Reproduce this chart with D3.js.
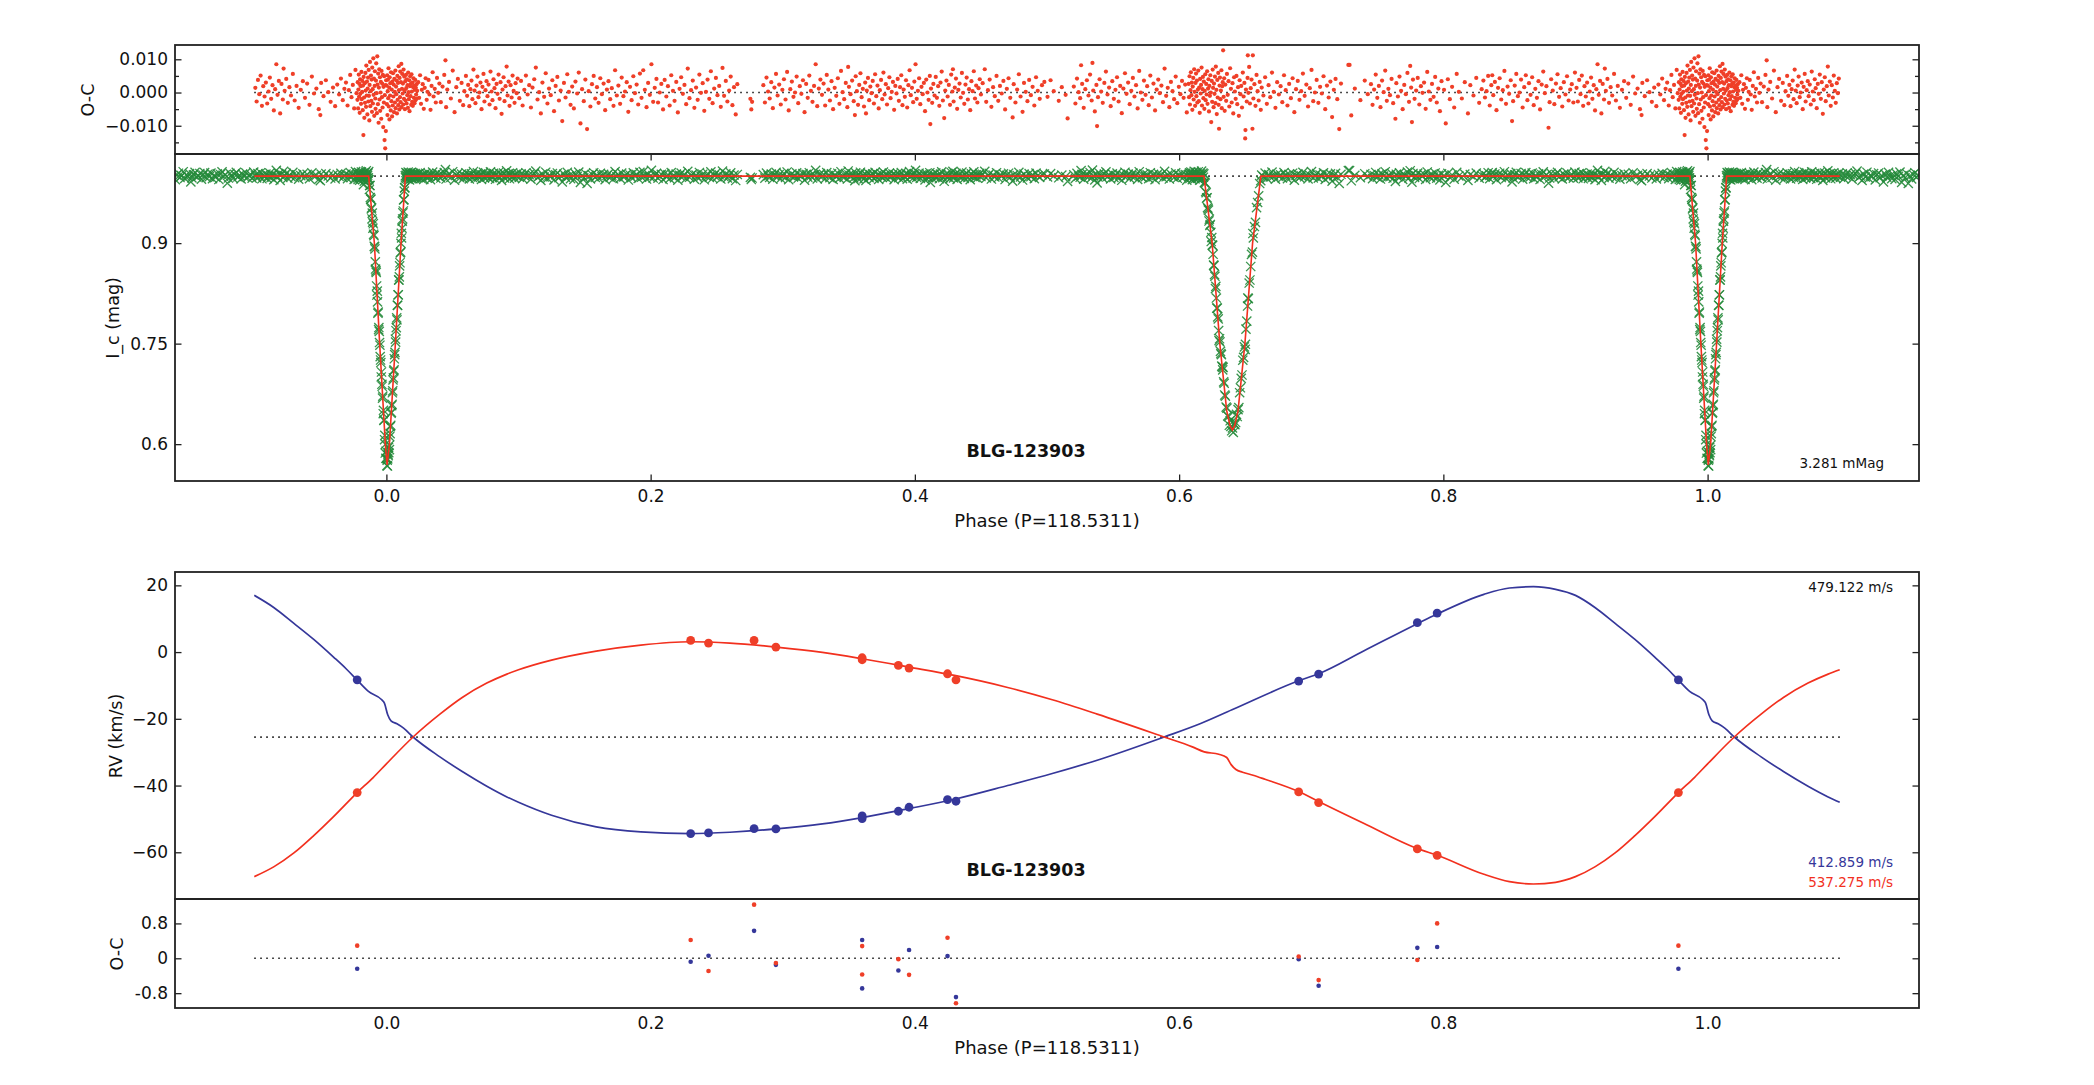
<!DOCTYPE html>
<html>
<head>
<meta charset="utf-8">
<script src="https://cdn.jsdelivr.net/npm/d3@7"></script>
<style>
  body { margin: 0; background: #fff; }
  text { font-family: "DejaVu Sans", sans-serif; }
</style>
</head>
<body>
<div class="chart"></div>
<script>
var svgWidth = 2094;
var svgHeight = 1085;

// photometric residuals, folded phase 0..1, [phase, O-C in mmag]
var lcResiduals = [
  // primary eclipse egress (dense)
  [0.0002,2.1],[0.0004,-3.5],[0.0006,5.2],[0.0008,-6.8],[0.0010,0.4],[0.0012,3.9],[0.0014,-1.7],[0.0016,7.3],[0.0018,-4.2],[0.0021,1.5],
  [0.0023,-8.1],[0.0025,4.6],[0.0028,-0.9],[0.0030,2.8],[0.0033,-5.4],[0.0035,6.1],[0.0038,-2.6],[0.0040,0.9],[0.0043,-7.2],[0.0045,3.3],
  [0.0048,-3.9],[0.0050,5.8],[0.0053,-1.2],[0.0055,2.4],[0.0058,-5.9],[0.0060,4.1],[0.0063,0.2],[0.0065,-3.0],[0.0068,6.6],[0.0070,-4.7],
  [0.0073,1.8],[0.0075,-0.5],[0.0078,3.6],[0.0080,-6.3],[0.0083,5.0],[0.0085,-2.2],[0.0088,2.9],[0.0090,-3.8],[0.0093,7.9],[0.0095,0.7],
  [0.0098,-5.1],[0.0100,4.4],[0.0103,-1.4],[0.0105,6.3],[0.0108,-2.9],[0.0110,3.1],[0.0113,8.6],[0.0115,-4.4],[0.0118,1.1],[0.0120,5.6],
  [0.0123,-0.3],[0.0125,2.7],[0.0128,-3.6],[0.0130,6.9],[0.0133,-1.9],[0.0135,4.8],[0.0138,0.6],[0.0140,-5.0],[0.0143,3.4],[0.0145,-2.4],
  [0.0148,5.3],[0.0150,1.3],[0.0153,-3.3],[0.0155,4.0],[0.0158,-0.8],[0.0160,2.2],[0.0163,-4.6],[0.0165,6.0],[0.0168,0.1],[0.0170,-2.0],
  [0.0173,3.7],[0.0175,-5.6],[0.0178,1.9],[0.0180,4.9],[0.0183,-1.1],[0.0185,2.6],[0.0188,-3.7],[0.0190,5.5],[0.0193,0.3],[0.0195,-2.8],
  [0.0198,3.0],[0.0200,-4.0],[0.0203,1.6],[0.0205,4.3],[0.0208,-1.6],[0.0210,2.0],[0.0213,-3.2],[0.0215,0.8],[0.0218,3.8],[0.0220,-2.3],
  [0.0223,1.4],[0.0225,-0.6],[0.0228,2.5],[0.0230,-1.8],[0.0233,0.5],
  // out of eclipse
  [0.0241,3.1],[0.0248,-1.6],[0.0255,5.2],[0.0262,-3.4],[0.0268,0.8],[0.0275,2.5],[0.0283,-4.9],[0.0290,1.4],[0.0297,4.3],[0.0305,-2.2],
  [0.0311,0.2],[0.0319,3.8],[0.0326,-0.6],[0.0334,-5.2],[0.0342,2.0],[0.0350,6.1],[0.0357,-1.2],[0.0366,1.1],[0.0374,-3.0],[0.0383,4.4],
  [0.0392,-0.1],[0.0401,2.7],[0.0412,-2.9],[0.0425,1.8],[0.0438,5.3],[0.0447,9.7],[0.0452,-4.4],[0.0461,0.9],[0.0474,3.2],[0.0488,-1.8],
  [0.0502,6.6],[0.0516,-5.9],[0.0529,1.6],[0.0541,4.1],[0.0556,-2.5],[0.0569,2.9],[0.0581,-3.8],[0.0590,0.4],[0.0602,5.0],[0.0611,-1.0],
  [0.0619,2.3],[0.0628,-4.1],[0.0636,1.0],[0.0644,3.6],[0.0651,-2.0],[0.0659,6.9],[0.0667,0.6],[0.0674,-3.2],[0.0682,2.1],[0.0689,4.8],
  [0.0697,-1.4],[0.0704,0.0],[0.0712,3.0],[0.0720,-5.0],[0.0727,1.7],[0.0735,5.6],[0.0742,-2.7],[0.0750,0.7],[0.0758,3.4],[0.0765,-1.1],
  [0.0773,2.4],[0.0781,-3.6],[0.0788,6.3],[0.0796,0.3],[0.0803,-2.3],[0.0811,4.0],[0.0818,1.3],[0.0826,-4.7],[0.0834,2.6],[0.0841,-0.4],
  [0.0849,5.4],[0.0857,-1.9],[0.0864,3.1],[0.0872,-6.4],[0.0879,0.9],[0.0887,4.6],[0.0894,-2.6],[0.0902,1.9],[0.0910,7.8],[0.0917,-0.9],
  [0.0925,3.3],[0.0932,-4.0],[0.0940,2.2],[0.0948,-1.5],[0.0955,5.1],[0.0963,0.5],[0.0970,-3.1],[0.0978,2.8],[0.0986,-0.2],[0.0993,4.2],
  [0.1006,-1.7],[0.1019,3.5],[0.1031,-3.9],[0.1044,0.8],[0.1056,5.1],[0.1069,-0.6],[0.1081,2.2],[0.1094,-4.5],[0.1106,1.5],[0.1119,4.0],
  [0.1131,7.5],[0.1144,-2.1],[0.1156,0.1],[0.1169,-6.3],[0.1181,3.0],[0.1194,-1.3],[0.1206,5.8],[0.1219,-3.3],[0.1231,1.2],[0.1244,-0.8],
  [0.1256,3.7],[0.1269,-5.6],[0.1281,2.0],[0.1294,4.7],[0.1306,-2.4],[0.1319,0.6],[0.1331,-8.6],[0.1344,2.9],[0.1356,-1.5],[0.1369,5.5],
  [0.1381,0.2],[0.1394,-3.7],[0.1406,1.8],[0.1419,-4.8],[0.1431,3.3],[0.1444,-0.3],[0.1456,6.0],[0.1469,-9.3],[0.1481,1.0],[0.1494,-2.6],
  [0.1506,3.9],[0.1519,-11.0],[0.1531,0.4],[0.1544,-4.2],[0.1556,2.5],[0.1569,5.0],[0.1581,-1.8],[0.1594,1.6],[0.1606,-3.1],[0.1619,4.3],
  [0.1631,-0.5],[0.1644,2.7],[0.1656,-5.3],[0.1669,0.9],[0.1681,3.4],[0.1694,-2.0],[0.1706,1.3],[0.1719,-4.0],[0.1731,6.7],[0.1744,-0.9],
  [0.1756,2.1],[0.1769,-3.4],[0.1781,4.5],[0.1794,-1.1],[0.1806,0.3],[0.1819,3.1],[0.1831,-5.8],[0.1844,1.7],[0.1856,-2.3],[0.1869,4.9],
  [0.1881,-0.2],[0.1894,2.4],[0.1906,-3.6],[0.1919,5.7],[0.1931,-1.6],[0.1944,6.7],[0.1956,0.8],[0.1969,-4.4],[0.1981,2.9],[0.1994,-0.7],
  [0.2006,8.5],[0.2019,-2.8],[0.2031,1.4],[0.2044,4.1],[0.2056,-3.0],[0.2069,0.0],[0.2081,2.6],[0.2094,-5.1],[0.2106,3.8],[0.2119,-1.2],
  [0.2131,1.9],[0.2144,-3.9],[0.2156,5.2],[0.2169,0.5],[0.2181,-2.5],[0.2194,3.2],[0.2206,-6.0],[0.2219,1.1],[0.2231,4.6],[0.2244,-0.4],
  [0.2256,2.3],[0.2269,-3.5],[0.2281,7.2],[0.2294,-1.7],[0.2306,0.7],[0.2319,3.6],[0.2331,-4.6],[0.2344,1.5],[0.2356,-2.2],[0.2369,5.4],
  [0.2381,-0.1],[0.2394,2.8],[0.2406,-5.5],[0.2419,0.2],[0.2431,3.9],[0.2444,-1.9],[0.2456,6.4],[0.2469,-3.2],[0.2481,1.2],[0.2494,4.4],
  [0.2506,-0.8],[0.2519,2.0],[0.2531,-4.3],[0.2544,7.4],[0.2556,-1.0],[0.2569,3.5],[0.2581,-2.7],[0.2594,0.6],[0.2606,4.8],[0.2619,-3.8],
  [0.2631,1.6],[0.2644,-6.6],[0.2656,2.5],
  [0.2755,-1.9],[0.2762,-5.1],[0.2768,-2.8],
  [0.2853,2.2],[0.2865,-3.0],[0.2877,4.5],[0.2889,0.3],[0.2901,-1.8],[0.2913,3.1],[0.2925,-4.7],[0.2937,1.5],[0.2949,5.6],[0.2961,-0.9],
  [0.2973,2.4],[0.2985,-3.6],[0.2997,0.8],[0.3009,4.0],[0.3021,-2.1],[0.3033,6.2],[0.3045,-5.4],[0.3057,1.0],[0.3069,3.3],[0.3081,-1.3],
  [0.3093,0.0],[0.3105,4.8],[0.3117,-3.2],[0.3129,1.9],[0.3141,-0.4],[0.3153,3.7],[0.3165,-5.9],[0.3177,2.6],[0.3189,-1.6],[0.3201,5.1],
  [0.3213,0.5],[0.3225,-2.8],[0.3237,2.0],[0.3249,8.5],[0.3261,-4.1],[0.3273,1.2],[0.3285,3.9],[0.3297,-0.7],[0.3309,2.7],[0.3321,-3.9],
  [0.3333,5.3],[0.3345,0.9],[0.3357,-2.4],[0.3369,3.4],[0.3381,-5.0],[0.3393,1.4],[0.3405,-1.0],[0.3417,4.3],[0.3429,-3.4],[0.3441,6.5],
  [0.3453,0.1],[0.3465,-2.0],[0.3477,2.9],[0.3489,-4.4],[0.3495,7.7],[0.3501,1.7],[0.3513,-0.5],[0.3525,3.6],[0.3537,-2.6],[0.3546,-6.8],
  [0.3552,4.9],[0.3561,0.4],[0.3570,-3.7],[0.3579,2.3],[0.3588,5.8],[0.3597,-1.4],[0.3606,1.1],[0.3615,-4.2],[0.3624,3.0],[0.3630,-6.3],
  [0.3636,0.6],[0.3645,4.4],[0.3654,-2.3],[0.3663,1.8],[0.3672,-0.2],[0.3681,3.5],[0.3690,-3.3],[0.3699,5.5],[0.3708,-1.1],[0.3717,2.1],
  [0.3726,-4.8],[0.3735,0.7],[0.3744,3.8],[0.3753,-2.0],[0.3762,6.0],[0.3771,-0.6],[0.3780,2.5],[0.3789,-3.6],[0.3798,1.3],[0.3807,4.6],
  [0.3816,-1.7],[0.3825,0.2],[0.3834,3.2],[0.3843,-5.2],[0.3852,2.0],[0.3861,-0.3],[0.3870,4.1],[0.3879,-2.5],[0.3888,1.6],[0.3897,5.2],
  [0.3906,-3.8],[0.3915,0.9],[0.3924,-1.3],[0.3933,3.7],[0.3942,-4.5],[0.3951,2.2],[0.3960,6.7],[0.3969,-0.8],[0.3978,1.4],[0.3987,-2.9],
  [0.3996,3.3],[0.4005,8.5],[0.4014,-1.9],[0.4023,0.5],[0.4032,4.3],[0.4041,-3.5],[0.4050,1.7],[0.4059,-0.5],[0.4068,2.9],[0.4077,-5.6],
  [0.4086,3.9],[0.4095,0.0],[0.4104,-2.2],[0.4113,5.0],[0.4117,-9.5],[0.4122,1.2],[0.4131,-3.1],[0.4140,2.6],[0.4149,-0.9],[0.4158,4.7],
  [0.4167,-1.6],[0.4176,1.9],[0.4185,-4.0],[0.4194,3.0],[0.4203,6.3],[0.4212,-2.4],[0.4222,-7.7],[0.4230,0.6],[0.4239,3.6],[0.4248,-1.2],
  [0.4257,2.3],[0.4266,-3.7],[0.4275,5.4],[0.4284,0.3],[0.4288,7.0],[0.4293,-2.7],[0.4302,1.5],[0.4311,4.2],[0.4320,-4.9],[0.4329,0.8],
  [0.4338,2.7],[0.4347,-1.5],[0.4356,5.9],[0.4365,-0.1],[0.4374,-3.4],[0.4383,2.4],[0.4392,4.5],[0.4401,-2.1],[0.4410,1.0],[0.4419,-5.3],
  [0.4428,3.4],[0.4437,0.4],[0.4446,6.4],[0.4455,-1.8],[0.4464,2.1],[0.4473,-3.0],[0.4482,1.3],[0.4491,4.0],[0.4500,-0.6],[0.4513,2.8],
  [0.4529,7.0],[0.4540,-2.8],[0.4553,0.7],[0.4566,3.9],[0.4579,-4.3],[0.4592,1.6],[0.4605,-1.1],[0.4618,5.0],[0.4631,-2.5],[0.4644,2.0],
  [0.4657,-0.3],[0.4670,3.5],[0.4683,-5.1],[0.4696,1.1],[0.4709,4.3],[0.4722,-1.6],[0.4740,-7.5],[0.4748,2.5],[0.4761,-3.0],[0.4774,0.9],
  [0.4787,5.5],[0.4800,-1.2],[0.4815,-5.8],[0.4826,2.9],[0.4839,0.2],[0.4852,-2.6],[0.4865,3.8],[0.4878,-0.8],[0.4891,1.7],[0.4904,-3.9],
  [0.4917,4.6],[0.4930,0.5],[0.4945,-1.9],[0.4962,2.2],
  [0.4980,3.2],[0.5004,-1.3],[0.5027,3.7],[0.5051,0.4],[0.5089,-2.5],[0.5112,1.6],[0.5141,-0.7],[0.5156,-7.8],
  [0.5203,1.8],[0.5215,-3.3],[0.5227,4.2],[0.5239,0.1],[0.5251,-1.7],[0.5258,8.2],[0.5266,2.6],[0.5278,-4.6],[0.5290,1.0],[0.5302,3.7],
  [0.5314,-0.9],[0.5326,5.4],[0.5338,-2.4],[0.5344,8.9],[0.5350,0.6],[0.5362,-5.7],[0.5374,2.3],[0.5379,-10.1],[0.5386,-1.4],[0.5398,4.0],
  [0.5410,0.3],[0.5422,-3.1],[0.5434,2.9],[0.5446,6.3],[0.5458,-0.6],[0.5470,1.5],[0.5482,-4.1],[0.5494,3.4],[0.5506,-1.9],[0.5518,0.8],
  [0.5530,4.6],[0.5542,-2.7],[0.5554,2.0],[0.5566,-6.2],[0.5578,1.2],[0.5590,5.8],[0.5602,-0.4],[0.5614,3.0],[0.5626,-3.5],[0.5638,0.5],
  [0.5650,4.4],[0.5662,-1.2],[0.5674,2.2],[0.5686,-4.8],[0.5698,6.5],[0.5710,0.0],[0.5722,-2.2],[0.5734,3.6],[0.5746,-0.7],[0.5758,1.9],
  [0.5770,-3.8],[0.5782,5.1],[0.5794,-1.5],[0.5806,2.7],[0.5818,-5.4],[0.5830,0.9],[0.5842,3.9],[0.5854,-0.2],[0.5866,2.1],[0.5878,-2.9],
  [0.5890,7.2],[0.5902,-1.0],[0.5914,1.4],[0.5926,-4.4],[0.5938,3.2],[0.5950,0.4],[0.5962,-2.0],[0.5974,4.8],[0.5986,-3.2],[0.5998,1.7],
  [0.6010,-0.5],[0.6022,3.5],[0.6034,-1.6],[0.6046,2.4],[0.6058,-6.0],
  // secondary eclipse (dense)
  [0.6072,2.6],[0.6075,-1.4],[0.6079,4.9],[0.6082,-3.6],[0.6086,0.7],[0.6089,6.1],[0.6093,-0.8],[0.6096,3.0],[0.6100,-5.2],[0.6103,1.8],
  [0.6107,4.4],[0.6110,-2.1],[0.6114,7.0],[0.6117,0.2],[0.6121,-4.0],[0.6124,2.9],[0.6128,5.7],[0.6131,-1.1],[0.6135,3.6],[0.6138,-3.0],
  [0.6142,0.9],[0.6145,6.6],[0.6149,-2.6],[0.6152,1.5],[0.6156,-6.1],[0.6159,4.1],[0.6163,-0.3],[0.6166,2.3],[0.6170,7.5],[0.6173,-3.9],
  [0.6177,1.0],[0.6180,4.7],[0.6184,-1.7],[0.6187,3.3],[0.6191,-4.9],[0.6194,0.5],[0.6198,5.5],[0.6201,-2.3],[0.6205,2.6],[0.6208,-0.6],
  [0.6212,6.4],[0.6215,-3.4],[0.6219,1.2],[0.6222,4.0],[0.6226,-5.7],[0.6229,2.0],[0.6233,-1.0],[0.6236,5.2],[0.6240,0.0],[0.6243,-8.9],
  [0.6247,3.5],[0.6250,-2.8],[0.6254,6.9],[0.6257,1.4],[0.6261,-4.4],[0.6264,2.7],[0.6268,-0.4],[0.6271,4.8],[0.6275,-3.2],[0.6278,7.8],
  [0.6282,0.8],[0.6285,-6.5],[0.6289,3.8],[0.6292,-1.5],[0.6296,5.9],[0.6299,-3.7],[0.6302,-10.9],[0.6306,2.1],[0.6309,4.5],[0.6313,-2.0],
  [0.6316,0.6],[0.6320,6.7],[0.6323,-4.7],[0.6327,1.9],[0.6330,3.1],[0.6333,12.7],[0.6337,-1.3],[0.6341,4.3],[0.6345,-5.5],[0.6350,2.4],
  [0.6356,-2.5],[0.6362,5.6],[0.6368,-0.7],[0.6374,3.4],[0.6380,-4.2],[0.6386,7.3],[0.6392,1.1],[0.6398,-3.0],[0.6404,2.8],[0.6410,-6.3],
  [0.6416,4.6],[0.6422,0.3],[0.6428,-1.9],[0.6434,5.0],[0.6440,-3.5],[0.6446,1.6],[0.6452,-7.0],[0.6458,3.7],[0.6464,-0.5],[0.6470,2.0],
  [0.6476,-4.5],[0.6482,6.0],[0.6488,-1.2],[0.6494,2.9],[0.6500,-13.8],[0.6502,-11.3],[0.6506,0.9],[0.6512,-2.7],[0.6518,4.4],[0.6520,11.2],
  [0.6524,-0.1],[0.6530,7.7],[0.6536,-3.3],[0.6542,1.3],[0.6548,3.9],[0.6555,-10.9],[0.6558,11.2],[0.6562,-1.8],[0.6570,2.5],[0.6578,-4.0],
  [0.6586,5.3],[0.6594,0.4],[0.6602,-2.4],[0.6610,3.2],[0.6618,-5.2],
  [0.6625,1.5],[0.6638,-0.9],[0.6651,4.6],[0.6664,-3.4],[0.6677,2.2],[0.6690,-1.4],[0.6703,6.0],[0.6716,0.2],[0.6729,-4.6],[0.6742,3.1],
  [0.6755,-0.6],[0.6768,1.9],[0.6781,-2.9],[0.6794,5.2],[0.6807,0.7],[0.6820,-3.9],[0.6833,2.6],[0.6846,-1.7],[0.6859,4.3],[0.6872,-5.9],
  [0.6885,1.0],[0.6898,3.5],[0.6911,-2.2],[0.6924,0.4],[0.6937,5.7],[0.6950,-1.0],[0.6963,2.4],[0.6976,-4.2],[0.6989,1.3],[0.7002,6.8],
  [0.7015,-2.6],[0.7028,0.0],[0.7041,3.8],[0.7054,-3.1],[0.7067,1.7],[0.7080,-0.3],[0.7093,4.9],[0.7106,-5.0],[0.7119,2.1],[0.7132,-1.5],
  [0.7145,3.3],[0.7158,-7.4],[0.7171,0.8],[0.7184,4.1],[0.7197,-2.0],[0.7212,-11.0],[0.7225,2.7],
  [0.7281,8.3],[0.7290,8.3],[0.7303,-6.9],[0.7330,1.2],[0.7372,-2.3],[0.7405,3.6],[0.7428,-0.5],
  [0.7452,2.5],[0.7464,-3.7],[0.7476,0.9],[0.7488,5.4],[0.7500,-1.6],[0.7512,2.0],[0.7524,-4.4],[0.7536,3.6],[0.7548,0.1],[0.7560,6.6],
  [0.7572,-2.5],[0.7584,1.1],[0.7596,-0.8],[0.7608,4.1],[0.7620,-3.2],[0.7637,-7.9],[0.7644,2.8],[0.7656,-1.2],[0.7668,4.8],[0.7680,0.5],
  [0.7692,-5.0],[0.7704,2.3],[0.7716,-0.5],[0.7728,5.9],[0.7740,-2.8],[0.7749,8.0],[0.7756,1.5],[0.7762,-8.9],[0.7770,3.9],[0.7782,-1.9],
  [0.7794,0.6],[0.7806,4.4],[0.7818,-3.6],[0.7830,1.9],[0.7842,-0.1],[0.7854,3.0],[0.7866,-4.9],[0.7878,6.2],[0.7890,0.3],[0.7902,-2.2],
  [0.7914,2.6],[0.7926,-1.3],[0.7938,4.7],[0.7950,-3.0],[0.7962,1.2],[0.7974,-5.6],[0.7986,3.4],
  [0.8005,0.8],[0.8018,-9.3],[0.8034,4.0],[0.8049,-2.0],[0.8066,1.7],[0.8082,-4.5],[0.8101,5.6],[0.8117,0.2],[0.8140,-1.8],[0.8162,3.1],
  [0.8186,-6.3],[0.8204,2.2],[0.8228,-0.9],[0.8249,4.4],[0.8271,-3.1],[0.8290,1.0],
  [0.8303,3.6],[0.8315,-1.5],[0.8327,0.4],[0.8339,5.0],[0.8351,-3.9],[0.8363,2.2],[0.8370,5.2],[0.8378,-0.8],[0.8390,3.2],[0.8402,-5.3],
  [0.8414,1.4],[0.8426,4.3],[0.8438,-2.1],[0.8450,0.7],[0.8462,6.5],[0.8474,-3.4],[0.8486,1.8],[0.8498,-0.4],[0.8510,3.7],[0.8520,-8.6],
  [0.8528,-2.6],[0.8540,2.1],[0.8552,5.6],[0.8564,-1.1],[0.8576,0.0],[0.8588,3.9],[0.8600,-4.5],[0.8612,1.6],[0.8624,5.2],[0.8636,-2.3],
  [0.8648,2.8],[0.8660,-0.7],[0.8672,4.6],[0.8684,-3.8],[0.8696,1.1],[0.8708,-1.6],[0.8720,3.4],[0.8732,-5.1],[0.8744,2.4],[0.8756,6.3],
  [0.8768,-0.2],[0.8780,1.9],[0.8796,-10.6],[0.8804,-2.9],[0.8816,4.0],[0.8828,0.6],[0.8840,-3.5],[0.8852,2.7],[0.8864,5.5],[0.8876,-1.3],
  [0.8888,1.3],[0.8900,-4.2],[0.8912,3.1],[0.8924,-0.6],[0.8936,4.9],[0.8948,-2.4],[0.8960,0.9],[0.8972,2.5],[0.8984,-3.0],[0.8996,6.0],
  [0.9008,1.4],[0.9018,-2.7],[0.9028,3.8],[0.9038,-0.5],[0.9048,5.1],[0.9058,-4.0],[0.9068,1.9],[0.9078,-1.2],[0.9088,3.0],[0.9098,-3.3],
  [0.9108,0.3],[0.9118,4.5],[0.9128,-1.9],[0.9138,2.2],[0.9148,-5.4],[0.9158,1.0],[0.9167,8.5],[0.9176,-0.7],[0.9186,3.5],[0.9196,-6.3],
  [0.9206,2.6],[0.9216,-2.1],[0.9222,7.2],[0.9230,0.5],[0.9242,4.1],[0.9254,-3.1],[0.9266,1.6],[0.9278,-0.9],[0.9292,5.6],[0.9306,-2.4],
  [0.9320,2.0],[0.9336,-4.6],[0.9352,0.8],[0.9368,3.4],[0.9384,-1.6],[0.9400,2.7],[0.9418,-3.7],[0.9436,4.8],[0.9452,-0.3],[0.9470,1.2],
  [0.9488,-5.0],[0.9500,-6.8],[0.9506,2.9],[0.9524,-1.1],[0.9542,3.7],[0.9560,0.1],[0.9578,-2.8],[0.9596,1.5],[0.9612,-4.1],[0.9628,2.4],
  [0.9642,-0.6],[0.9656,4.2],[0.9670,-2.3],[0.9682,1.1],[0.9694,3.0],[0.9706,-3.9],[0.9716,0.7],[0.9726,5.3],[0.9736,-1.4],[0.9746,2.3],
  [0.9756,-4.8],[0.9766,6.8],[0.9774,-0.2],
  // primary eclipse ingress (dense)
  [0.9781,-2.2],[0.9783,3.1],[0.9786,-4.8],[0.9788,0.9],[0.9791,5.4],[0.9793,-1.3],[0.9796,2.6],[0.9798,-6.1],[0.9801,4.0],[0.9803,-0.4],
  [0.9806,1.9],[0.9808,-3.4],[0.9811,6.2],[0.9813,-2.0],[0.9816,0.2],[0.9818,3.5],[0.9821,-5.3],[0.9823,2.1],[0.9826,-12.8],[0.9828,4.7],
  [0.9831,-1.5],[0.9833,-7.6],[0.9836,2.8],[0.9838,-3.1],[0.9841,5.9],[0.9843,0.6],[0.9846,-4.3],[0.9848,8.1],[0.9851,-0.9],[0.9853,3.3],
  [0.9856,-6.6],[0.9858,1.2],[0.9861,4.5],[0.9863,-2.7],[0.9866,6.8],[0.9868,-1.0],[0.9871,-8.4],[0.9873,2.3],[0.9876,9.2],[0.9878,-4.1],
  [0.9881,0.4],[0.9883,5.1],[0.9886,-2.5],[0.9888,3.9],[0.9891,-5.8],[0.9893,7.5],[0.9896,1.0],[0.9898,-3.3],[0.9901,10.3],[0.9903,-0.7],
  [0.9906,4.2],[0.9908,-7.0],[0.9911,2.0],[0.9913,6.4],[0.9916,-1.8],[0.9918,-4.9],[0.9921,3.6],[0.9923,8.8],[0.9926,-0.2],[0.9928,-6.2],
  [0.9931,10.9],[0.9933,2.4],[0.9936,-3.5],[0.9938,5.7],[0.9941,-9.1],[0.9943,1.5],[0.9946,7.0],[0.9948,-2.1],[0.9951,4.6],[0.9953,-5.5],
  [0.9956,0.0],[0.9958,3.2],[0.9961,-7.9],[0.9963,6.5],[0.9966,-1.4],[0.9968,2.7],[0.9971,-4.5],[0.9973,5.3],[0.9976,-10.4],[0.9978,1.7],
  [0.9981,-3.0],[0.9983,4.9],[0.9986,-14.3],[0.9988,-0.8],[0.9991,-16.8],[0.9993,2.2],[0.9996,-11.6],[0.9998,3.7]
];

// light curve model vertices [phase, I_c]
var lcModel = [
  [0.0005,0.569],[0.0023,0.6],[0.0068,0.75],[0.0111,0.9],[0.0144,1.0],[0.1,1.0],
  [0.6188,1.0],[0.6250,0.9],[0.6308,0.75],[0.6360,0.65],[0.6385,0.628],[0.6403,0.621],
  [0.6421,0.628],[0.6446,0.65],[0.6498,0.75],[0.6556,0.9],[0.6619,1.0],
  [0.9,1.0],[0.9866,1.0],[0.9909,0.9],[0.9949,0.75],[0.9992,0.6]
];

// radial velocity model vertices [phase, km/s]
var rvModelBlue = [
  [0.0010,-18.8],[0.0035,-20.6],[0.0080,-21.5],[0.0130,-22.8],[0.0202,-25.45],[0.0405,-31.4],[0.0574,-35.8],[0.0760,-40.2],
  [0.0912,-43.4],[0.1000,-45.0],[0.1250,-48.9],[0.1588,-52.4],[0.1926,-53.9],[0.2300,-54.4],[0.2600,-54.0],[0.2950,-53.0],
  [0.3300,-51.5],[0.3601,-49.6],[0.3956,-46.9],[0.4300,-44.1],[0.4702,-40.0],[0.5040,-36.4],[0.5380,-32.4],[0.5886,-25.45],
  [0.6163,-21.4],[0.6400,-17.3],[0.6905,-8.6],[0.7056,-6.5],[0.7400,0.4],[0.7803,8.5],[0.7953,11.4],[0.8307,17.3],
  [0.8500,19.2],[0.8682,19.6],[0.8850,18.8],[0.9000,17.0],[0.9150,13.3],[0.9300,8.6],[0.9450,3.8],[0.9600,-1.5],
  [0.9695,-5.0],[0.9779,-8.4],[0.9864,-11.8],[0.9965,-14.3],[0.9985,-15.3]
];
var rvModelRed = [
  [0.0000,-33.5],[0.0202,-25.45],[0.0405,-18.6],[0.0574,-13.6],[0.0760,-9.3],[0.0912,-6.6],[0.1000,-5.3],[0.1250,-2.4],
  [0.1588,0.3],[0.1926,2.1],[0.2300,3.1],[0.2600,2.7],[0.2950,1.5],[0.3300,-0.1],[0.3601,-2.0],[0.3956,-4.5],
  [0.4300,-7.0],[0.4702,-10.6],[0.5040,-14.3],[0.5380,-18.6],[0.5886,-25.45],[0.6100,-28.4],[0.6190,-29.9],[0.6300,-30.6],
  [0.6360,-31.6],[0.6395,-33.8],[0.6430,-35.2],[0.6480,-36.0],[0.6560,-36.9],[0.6650,-38.1],[0.6905,-41.8],[0.7056,-44.8],
  [0.7400,-51.4],[0.7803,-58.9],[0.7953,-60.9],[0.8307,-66.6],[0.8500,-68.8],[0.8682,-69.5],[0.8850,-69.0],[0.9000,-67.3],
  [0.9150,-64.3],[0.9300,-60.2],[0.9450,-55.0],[0.9600,-49.3],[0.9779,-42.1],[0.9900,-37.6]
];

// measured radial velocities and their residuals
var rvPhase = [0.2303, 0.2438, 0.2783, 0.2948, 0.3601, 0.3601, 0.3875, 0.3956, 0.4247, 0.4311, 0.6905, 0.7056, 0.7803, 0.7953, 0.9779];
var rvBlue = [-54.4, -54.2, -52.9, -53.0, -49.1, -49.9, -47.7, -46.5, -44.2, -44.7, -8.7, -6.6, 8.8, 11.7, -8.3];
var rvRed = [3.5, 2.7, 3.5, 1.5, -1.7, -2.3, -4.0, -4.8, -6.5, -8.3, -41.9, -45.1, -59.0, -60.9, -42.1];
var rvOcBlue = [-0.08, 0.06, 0.63, -0.15, 0.42, -0.69, -0.28, 0.19, 0.05, -0.89, -0.02, -0.63, 0.24, 0.26, -0.24];
var rvOcRed = [0.42, -0.29, 1.23, -0.11, 0.28, -0.37, -0.02, -0.38, 0.47, -1.03, 0.04, -0.50, -0.04, 0.80, 0.29];
var gammaVelocity = -25.5;

// ticks and labels
var phaseTicks = [0, 0.2, 0.4, 0.6, 0.8, 1.0];
var phaseTickLabels = ["0.0", "0.2", "0.4", "0.6", "0.8", "1.0"];
var ocTicks = [0.01, 0, -0.01];
var ocTickLabels = ["0.010", "0.000", "\u22120.010"];
var ocMinorTicks = [0.005, -0.005, -0.015];
var lcTicks = [0.9, 0.75, 0.6];
var lcTickLabels = ["0.9", "0.75", "0.6"];
var rvTicks = [20, 0, -20, -40, -60];
var rvTickLabels = ["20", "0", "\u221220", "\u221240", "\u221260"];
var rvOcTicks = [0.8, 0, -0.8];
var rvOcTickLabels = ["0.8", "0", "-0.8"];

var starName = "BLG-123903";
var phaseTitle = "Phase (P=118.5311)";
var lcRms = "3.281 mMag";
var rvRms = "479.122 m/s";
var rvRmsBlue = "412.859 m/s";
var rvRmsRed = "537.275 m/s";

var colRed = "#f2301e";
var colDot = "#ef3f28";
var colBlue = "#35379a";
var colGreen = "#23893a";
var colAxis = "#222";

// copies of folded points one period either side, kept inside [lo, hi]
function unfold(rows, lo, hi) {
  var out = [];
  rows.forEach(function(r) {
    [-1, 0, 1].forEach(function(k) {
      var p = r[0] + k;
      if (p >= lo - 1e-9 && p <= hi + 1e-9) out.push([p].concat(r.slice(1)).concat([r[0]]));
    });
  });
  return out.sort(function(a, b) { return a[0] - b[0]; });
}

var svg = d3.select(".chart")
  .append("svg")
  .attr("width", svgWidth)
  .attr("height", svgHeight)
  .style("background", "#fff");

// scales
var xLeft = 175, xRight = 1919;
var xScale = d3.scaleLinear().domain([-0.16, 1.16]).range([xLeft, xRight]);
var yOc = d3.scaleLinear().domain([-0.0185, 0.0143]).range([154, 45]);
var yLc = d3.scaleLinear().domain([0.545, 1.033]).range([481, 154]);
var yRv = d3.scaleLinear().domain([-74, 24]).range([899, 572]);
var yRvOc = d3.scaleLinear().domain([-1.14, 1.36]).range([1008, 899]);

// clip each panel to its frame
function addClip(id, yScale) {
  var r = yScale.range();
  svg.append("clipPath").attr("id", id)
    .append("rect")
    .attr("x", xLeft).attr("y", r[1])
    .attr("width", xRight - xLeft).attr("height", r[0] - r[1]);
}
addClip("clipOc", yOc);
addClip("clipLc", yLc);
addClip("clipRv", yRv);
addClip("clipRvOc", yRvOc);

function dottedLine(g, yScale, value) {
  g.append("line")
    .attr("x1", xScale(-0.1)).attr("x2", xScale(1.1))
    .attr("y1", yScale(value)).attr("y2", yScale(value))
    .attr("stroke", "#111")
    .attr("stroke-width", 1.6)
    .attr("stroke-dasharray", "1.5,4.5");
}

// ---- light curve residuals (top) ----
var ocGroup = svg.append("g").attr("clip-path", "url(#clipOc)");
dottedLine(ocGroup, yOc, 0);
ocGroup.selectAll("circle")
  .data(unfold(lcResiduals, -0.1, 1.1))
  .enter()
  .append("circle")
  .attr("cx", d => xScale(d[0]))
  .attr("cy", d => yOc(d[1] / 1000))
  .attr("r", 2.1)
  .attr("fill", colDot);

// ---- light curve ----
var lcLine = unfold(lcModel, -0.1, 1.1);
var bisect = d3.bisector(d => d[0]).left;
function modelAt(p) {
  var i = bisect(lcLine, p);
  if (i <= 0) return lcLine[0][1];
  if (i >= lcLine.length) return lcLine[lcLine.length - 1][1];
  var a = lcLine[i - 1], b = lcLine[i];
  return a[1] + (b[1] - a[1]) * (p - a[0]) / (b[0] - a[0]);
}

var lcGroup = svg.append("g").attr("clip-path", "url(#clipLc)");
dottedLine(lcGroup, yLc, 1.0);

// observed = model + residual, one cross per point
lcGroup.selectAll("path.obs")
  .data(unfold(lcResiduals, -0.16, 1.16))
  .enter()
  .append("path")
  .attr("class", "obs")
  .attr("transform", d => `translate(${xScale(d[0])},${yLc(modelAt(d[2]) + d[1] / 1000)})`)
  .attr("d", "M-4.6,-4.6L4.6,4.6M-4.6,4.6L4.6,-4.6")
  .attr("stroke", colGreen)
  .attr("stroke-width", 1.3)
  .attr("fill", "none")
  .attr("opacity", 0.9);

lcGroup.append("path")
  .datum(lcLine)
  .attr("d", d3.line().x(d => xScale(d[0])).y(d => yLc(d[1])))
  .attr("fill", "none")
  .attr("stroke", colRed)
  .attr("stroke-width", 1.6);

// ---- radial velocities ----
var rvRows = rvPhase.map((p, i) => [p, rvBlue[i], rvRed[i], rvOcBlue[i], rvOcRed[i]]);
var rvPoints = unfold(rvRows, -0.1, 1.1);

var rvGroup = svg.append("g").attr("clip-path", "url(#clipRv)");
dottedLine(rvGroup, yRv, gammaVelocity);

var rvLine = d3.line()
  .x(d => xScale(d[0]))
  .y(d => yRv(d[1]))
  .curve(d3.curveMonotoneX);

rvGroup.append("path")
  .datum(unfold(rvModelBlue, -0.1, 1.1))
  .attr("d", rvLine)
  .attr("fill", "none")
  .attr("stroke", colBlue)
  .attr("stroke-width", 1.7);

rvGroup.append("path")
  .datum(unfold(rvModelRed, -0.1, 1.1))
  .attr("d", rvLine)
  .attr("fill", "none")
  .attr("stroke", colRed)
  .attr("stroke-width", 1.7);

rvGroup.selectAll("circle.blue")
  .data(rvPoints)
  .enter()
  .append("circle")
  .attr("class", "blue")
  .attr("cx", d => xScale(d[0]))
  .attr("cy", d => yRv(d[1]))
  .attr("r", 4.4)
  .attr("fill", colBlue);

rvGroup.selectAll("circle.red")
  .data(rvPoints)
  .enter()
  .append("circle")
  .attr("class", "red")
  .attr("cx", d => xScale(d[0]))
  .attr("cy", d => yRv(d[2]))
  .attr("r", 4.4)
  .attr("fill", colDot);

// ---- radial velocity residuals ----
var rvOcGroup = svg.append("g").attr("clip-path", "url(#clipRvOc)");
dottedLine(rvOcGroup, yRvOc, 0);

rvOcGroup.selectAll("circle.blue")
  .data(rvPoints)
  .enter()
  .append("circle")
  .attr("class", "blue")
  .attr("cx", d => xScale(d[0]))
  .attr("cy", d => yRvOc(d[3]))
  .attr("r", 2.3)
  .attr("fill", colBlue);

rvOcGroup.selectAll("circle.red")
  .data(rvPoints)
  .enter()
  .append("circle")
  .attr("class", "red")
  .attr("cx", d => xScale(d[0]))
  .attr("cy", d => yRvOc(d[4]))
  .attr("r", 2.3)
  .attr("fill", colDot);

// ---- axes (inward ticks on every side, labels left and bottom) ----
function styleAxis(g) {
  g.select(".domain").remove();
  g.selectAll("line").attr("stroke", colAxis).attr("stroke-width", 1.3);
  g.selectAll("text")
    .attr("font-family", "DejaVu Sans, sans-serif")
    .attr("font-size", 17)
    .attr("fill", "#111");
}

function yAxes(yScale, ticks, labels, minor) {
  svg.append("g")
    .attr("transform", `translate(${xLeft},0)`)
    .call(d3.axisLeft(yScale).tickValues(ticks).tickFormat((d, i) => labels[i])
      .tickSizeInner(-6.5).tickSizeOuter(0).tickPadding(7))
    .call(styleAxis);
  svg.append("g")
    .attr("transform", `translate(${xRight},0)`)
    .call(d3.axisRight(yScale).tickValues(ticks).tickFormat("")
      .tickSizeInner(-6.5).tickSizeOuter(0))
    .call(styleAxis);
  if (minor) {
    svg.append("g")
      .attr("transform", `translate(${xLeft},0)`)
      .call(d3.axisLeft(yScale).tickValues(minor).tickFormat("").tickSizeInner(-4).tickSizeOuter(0))
      .call(styleAxis);
    svg.append("g")
      .attr("transform", `translate(${xRight},0)`)
      .call(d3.axisRight(yScale).tickValues(minor).tickFormat("").tickSizeInner(-4).tickSizeOuter(0))
      .call(styleAxis);
  }
}

yAxes(yOc, ocTicks, ocTickLabels, ocMinorTicks);
yAxes(yLc, lcTicks, lcTickLabels);
yAxes(yRv, rvTicks, rvTickLabels);
yAxes(yRvOc, rvOcTicks, rvOcTickLabels);

// light curve: bottom labelled ticks, top plain ticks
svg.append("g")
  .attr("transform", `translate(0,${yLc.range()[0]})`)
  .call(d3.axisBottom(xScale).tickValues(phaseTicks).tickFormat((d, i) => phaseTickLabels[i])
    .tickSizeInner(-6.5).tickSizeOuter(0).tickPadding(9))
  .call(styleAxis);
svg.append("g")
  .attr("transform", `translate(0,${yLc.range()[1]})`)
  .call(d3.axisTop(xScale).tickValues(phaseTicks).tickFormat("")
    .tickSizeInner(-6.5).tickSizeOuter(0))
  .call(styleAxis);

// radial velocity residuals: labels only
svg.append("g")
  .attr("transform", `translate(0,${yRvOc.range()[0]})`)
  .call(d3.axisBottom(xScale).tickValues(phaseTicks).tickFormat((d, i) => phaseTickLabels[i])
    .tickSizeInner(0).tickSizeOuter(0).tickPadding(9))
  .call(styleAxis);

// frames
[yOc, yLc, yRv, yRvOc].forEach(function(s) {
  var r = s.range();
  svg.append("rect")
    .attr("x", xLeft).attr("y", r[1])
    .attr("width", xRight - xLeft).attr("height", r[0] - r[1])
    .attr("fill", "none")
    .attr("stroke", colAxis)
    .attr("stroke-width", 1.8);
});

// ---- text ----
function yLabel(text, x, y) {
  svg.append("text")
    .attr("transform", `translate(${x},${y}) rotate(-90)`)
    .attr("text-anchor", "middle")
    .attr("dominant-baseline", "central")
    .attr("font-size", 17.5)
    .attr("fill", "#111")
    .text(text);
}
yLabel("O-C", 88, 100);
yLabel("I_c (mag)", 113, 318);
yLabel("RV (km/s)", 116, 736);
yLabel("O-C", 117, 954);

function centred(text, x, y, size, weight, colour, anchor) {
  svg.append("text")
    .attr("x", x).attr("y", y)
    .attr("text-anchor", anchor || "middle")
    .attr("font-size", size)
    .attr("font-weight", weight || "normal")
    .attr("fill", colour || "#111")
    .text(text);
}
var xMid = (xLeft + xRight) / 2;
centred(phaseTitle, xMid, 527, 18);
centred(phaseTitle, xMid, 1054, 18);
centred(starName, 1026, 457, 17.5, "bold");
centred(starName, 1026, 876, 17.5, "bold");
centred(lcRms, 1884, 468, 13.5, "normal", "#111", "end");
centred(rvRms, 1893, 592, 13.5, "normal", "#111", "end");
centred(rvRmsBlue, 1893, 867, 13.5, "normal", colBlue, "end");
centred(rvRmsRed, 1893, 887, 13.5, "normal", colRed, "end");
</script>
</body>
</html>
